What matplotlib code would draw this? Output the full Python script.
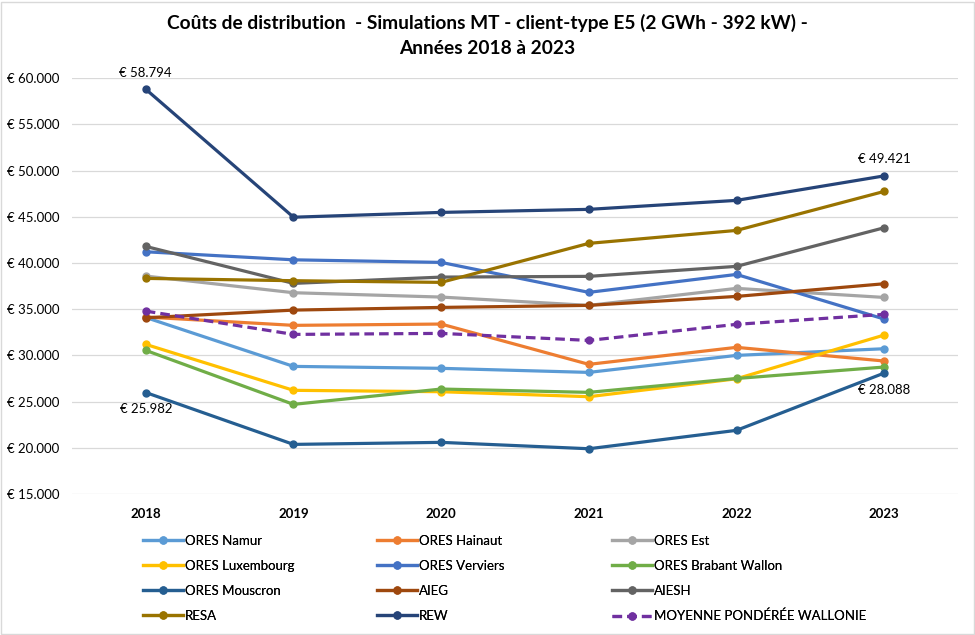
import matplotlib
matplotlib.use("Agg")
import matplotlib.pyplot as plt
from matplotlib.patches import Rectangle
from matplotlib.ticker import FuncFormatter

plt.rcParams['font.family'] = ['Lato', 'DejaVu Sans']

# donnees (EUR / an)
annees = ['2018', '2019', '2020', '2021', '2022', '2023']

ores_namur = [34100, 28810, 28600, 28160, 30000, 30720]
ores_hainaut = [34150, 33250, 33390, 29030, 30870, 29390]
ores_est = [38580, 36780, 36310, 35410, 37250, 36270]
ores_luxembourg = [31190, 26220, 26070, 25530, 27470, 32200]
ores_verviers = [41210, 40340, 40060, 36820, 38760, 33930]
ores_brabant_wallon = [30540, 24700, 26360, 26000, 27500, 28740]
ores_mouscron = [25982, 20370, 20590, 19900, 21890, 28088]
aieg = [34070, 34900, 35190, 35410, 36380, 37750]
aiesh = [41790, 37790, 38470, 38550, 39630, 43810]
resa = [38330, 38080, 37900, 42120, 43520, 47740]
rew = [58794, 44950, 45470, 45800, 46770, 49421]
moyenne = [34790, 32270, 32380, 31620, 33360, 34440]

series = [
    ("ORES Namur", ores_namur, '#5B9BD5', '-'),
    ("ORES Hainaut", ores_hainaut, '#ED7D31', '-'),
    ("ORES Est", ores_est, '#A5A5A5', '-'),
    ("ORES Luxembourg", ores_luxembourg, '#FFC000', '-'),
    ("ORES Verviers", ores_verviers, '#4472C4', '-'),
    ("ORES Brabant Wallon", ores_brabant_wallon, '#70AD47', '-'),
    ("ORES Mouscron", ores_mouscron, '#255E91', '-'),
    ("AIEG", aieg, '#9E480E', '-'),
    ("AIESH", aiesh, '#636363', '-'),
    ("RESA", resa, '#997300', '-'),
    ("REW", rew, '#264478', '-'),
    ("MOYENNE PONDÉRÉE WALLONIE", moyenne, '#7030A0', '--'),
]

fig = plt.figure(figsize=(9.75, 6.35), dpi=100)
ax = fig.add_axes([0.0738, 0.222, 0.9088, 0.655])

x = list(range(len(annees)))
handles = []
for nom, vals, col, ls in series:
    ln, = ax.plot(x, vals, color=col, linestyle=ls, linewidth=2.3,
                  marker='o', markersize=5, label=nom,
                  dashes=(3, 1.6) if ls == '--' else (None, None))
    handles.append(ln)

# etiquettes de donnees (REW et ORES Mouscron)
def euro(v):
    return "€ " + f"{v:,.0f}".replace(",", ".")

ax.annotate(euro(rew[0]), (0, rew[0]), xytext=(0, 12), textcoords='offset points',
            ha='center', va='center', fontsize=9.5)
ax.annotate(euro(rew[-1]), (5, rew[-1]), xytext=(0, 12), textcoords='offset points',
            ha='center', va='center', fontsize=9.5)
ax.annotate(euro(ores_mouscron[0]), (0, ores_mouscron[0]), xytext=(0, -12),
            textcoords='offset points', ha='center', va='center', fontsize=9.5)
ax.annotate(euro(ores_mouscron[-1]), (5, ores_mouscron[-1]), xytext=(0, -12),
            textcoords='offset points', ha='center', va='center', fontsize=9.5)

ax.set_xlim(-0.5, 5.5)
ax.set_ylim(15000, 60000)
ax.set_yticks(range(15000, 60001, 5000))
ax.yaxis.set_major_formatter(FuncFormatter(lambda v, p: euro(v)))
ax.set_xticks(x)
ax.set_xticklabels(annees, fontweight='bold')
ax.tick_params(axis='both', length=0, labelsize=9.5, colors='#000000')
ax.tick_params(axis='x', pad=10)
ax.tick_params(axis='y', pad=9)
ax.grid(axis='y', color='#D9D9D9', linewidth=0.9)
ax.set_axisbelow(True)
for s in ax.spines.values():
    s.set_visible(False)

fig.text(0.5, 0.964, "Coûts de distribution  - Simulations MT - client-type E5 (2 GWh - 392 kW) -",
         ha='center', va='center', fontsize=13.8, fontweight='bold')
fig.text(0.5, 0.923, "Années 2018 à 2023", ha='center', va='center',
         fontsize=13.8, fontweight='bold')

# legende : 3 colonnes, ordre par lignes comme Excel
col_x = [143 / 975, 377 / 975, 612 / 975]
for c in range(3):
    hs = handles[c::3]
    leg = fig.legend(hs, [h.get_label() for h in hs], loc='upper left',
                     bbox_to_anchor=(col_x[c], 1 - 535 / 635), frameon=False,
                     fontsize=9.5, handlelength=3.0, handletextpad=0.2,
                     labelspacing=0.98, borderpad=0, borderaxespad=0)
    fig.add_artist(leg)

fig.patches.append(Rectangle((0.001, 0.0015), 0.998, 0.996, transform=fig.transFigure,
                             fill=False, edgecolor='#D9D9D9', linewidth=1))

fig.savefig("out.png", dpi=100)
